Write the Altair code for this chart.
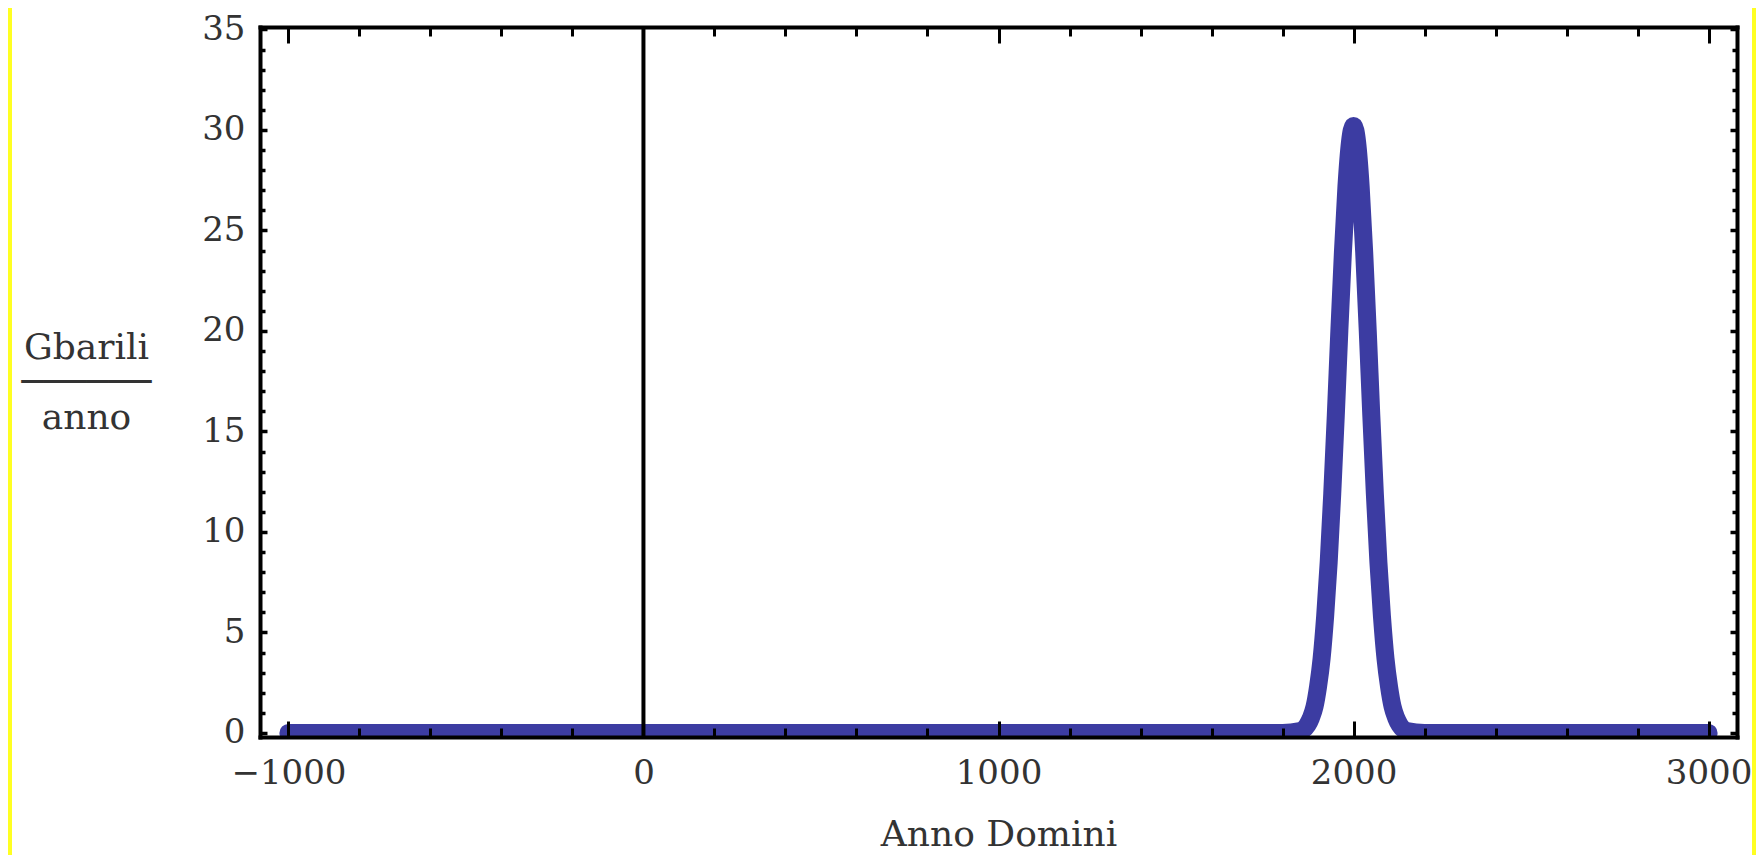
import altair as alt
import pandas as pd

# ---- data ----
years = [-1000, 1800, 1850, 1870, 1880, 1890, 1900, 1910, 1920, 1930, 1940,
         1950, 1960, 1970, 1980, 1990, 2000, 2010, 2020, 2030, 2040, 2050,
         2060, 2070, 2080, 2090, 2100, 2110, 2120, 2130, 2150, 2200, 3000]
values = [0.0, 0.0, 0.1, 0.4, 0.75, 1.3, 2.3, 3.7, 5.8, 8.5, 11.9,
          15.8, 20.0, 23.9, 27.2, 29.4, 30.2, 29.4, 27.2, 23.9, 20.0, 15.8,
          11.9, 8.5, 5.8, 3.7, 2.3, 1.3, 0.75, 0.4, 0.1, 0.0, 0.0]

x_major = [-1000, 0, 1000, 2000, 3000]
x_minor = [v for v in range(-1000, 3001, 200) if v % 1000 != 0]
y_major = [0, 5, 10, 15, 20, 25, 30, 35]
y_minor = [v for v in range(0, 36) if v % 5 != 0]
x_domain = [-1080, 3080]
y_domain = [-0.2, 35.12]
zero_line = [0]

x_title = "Anno Domini"
y_title = ["Gbarili", "──────", "anno"]

df = pd.DataFrame({"year": years, "value": values})

W, H = 1477, 710
BOTTOM = 126
FONT = "DejaVu Serif"
TFONT = "'DejaVu Serif', 'DejaVu Sans'"
TXT = "#333333"
BLUE = "#3c3ca2"

xs = alt.Scale(domain=x_domain, nice=False, zero=False)
ys = alt.Scale(domain=y_domain, nice=False, zero=False)

# white inner panel on a yellow page
bg = alt.Chart(alt.Data(values=[{"k": 1}])).mark_rect(color="white").encode(
    x=alt.value(-248), x2=alt.value(W + 15), y=alt.value(-19), y2=alt.value(H + BOTTOM)
)

curve = alt.Chart(df).mark_line(
    color=BLUE, strokeWidth=18, interpolate="monotone", clip=True,
    strokeCap="round", strokeJoin="round"
).encode(
    x=alt.X("year:Q", scale=xs, axis=alt.Axis(
        values=x_major, ticks=False, tickSize=0, domain=True, domainColor="black",
        domainWidth=4, domainCap="square", labelFont=FONT, labelFontSize=34,
        labelColor=TXT, labelPadding=19, format="d", labelFlush=False,
        labelOverlap=False, grid=False, zindex=1,
        title=x_title, titleFont=FONT, titleFontSize=36, titleFontWeight="normal",
        titleColor=TXT, titleBaseline="alphabetic", titleY=108)),
    y=alt.Y("value:Q", scale=ys, axis=alt.Axis(
        values=y_major, ticks=False, tickSize=0, domain=True, domainColor="black",
        domainWidth=4, domainCap="square", labelFont=FONT, labelFontSize=34,
        labelColor=TXT, labelPadding=15, labelFlush=False, labelOverlap=False,
        grid=False, zindex=1,
        title=y_title, titleFont=TFONT, titleFontSize=36, titleFontWeight="normal",
        titleColor=TXT, titleAngle=0, titleAlign="center", titleBaseline="alphabetic",
        titleX=-174, titleY=331, titleLineHeight=35)),
)

zero = alt.Chart(alt.Data(values=[{"x0": v} for v in zero_line])).mark_rule(
    color="black", strokeWidth=4
).encode(x=alt.X("x0:Q", scale=xs, axis=None))


def tick_layer(x_orient, y_orient, xv, yv, xsize, ysize, domain):
    return alt.Chart(df).mark_line(opacity=0).encode(
        x=alt.X("year:Q", scale=xs, axis=alt.Axis(
            orient=x_orient, offset=-H, values=xv, labels=False, ticks=True,
            tickSize=xsize, tickWidth=3, tickColor="black", domain=domain,
            domainWidth=4, domainColor="black", domainCap="square",
            grid=False, title=None, zindex=1)),
        y=alt.Y("value:Q", scale=ys, axis=alt.Axis(
            orient=y_orient, offset=-W, values=yv, labels=False, ticks=True,
            tickSize=ysize, tickWidth=3.5, tickColor="black", domain=domain,
            domainWidth=4, domainColor="black", domainCap="square",
            grid=False, title=None, zindex=1)),
    )


t1 = tick_layer("top", "right", x_major, y_major, 16, 7, False)
t2 = tick_layer("top", "right", x_minor, y_minor, 9, 5, False)
t3 = tick_layer("bottom", "left", x_major, y_major, 16, 7, True)
t4 = tick_layer("bottom", "left", x_minor, y_minor, 9, 5, False)

chart = alt.layer(bg, curve, zero, t1, t2, t3, t4).resolve_axis(
    x="independent", y="independent"
).properties(
    width=W, height=H,
    autosize=alt.AutoSizeParams(type="none"),
    padding={"left": 252, "top": 19, "right": 19, "bottom": BOTTOM},
).configure(background="#ffff22").configure_view(strokeWidth=0)

chart.save("out.html", embed_options={"renderer": "svg", "actions": False})
